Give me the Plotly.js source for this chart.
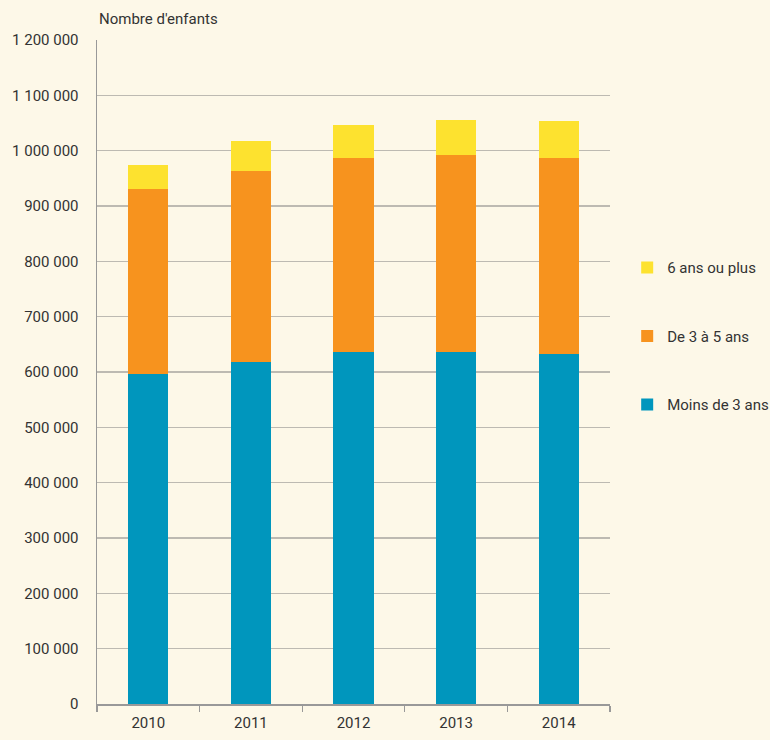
<!DOCTYPE html>
<html>
<head>
<meta charset="utf-8">
<script src="https://cdn.plot.ly/plotly-3.0.1.min.js"></script>
<style>html,body{margin:0;padding:0;background:#fdf8e8;}</style>
</head>
<body>
<div id="chart" style="width:770px;height:740px;"></div>
<script>
const years = ['2010', '2011', '2012', '2013', '2014'];
const moinsDe3 = [597000, 618000, 637000, 637000, 632000];
const de3a5 = [333000, 346000, 350000, 356000, 355000];
const sixPlus = [45000, 53000, 59000, 63000, 67000];
const seriesNames = ['Moins de 3 ans', 'De 3 à 5 ans', '6 ans ou plus'];
const colors = ['#0096bd', '#f7931e', '#fde22f'];

const font = "'Roboto', 'Liberation Sans', sans-serif";
const fs = 15;
const allSeries = [moinsDe3, de3a5, sixPlus];
const traces = allSeries.map((vals, i) => ({
  type: 'bar', x: years, y: vals, name: seriesNames[i],
  legendgroup: 'g' + i, legendrank: 3 - i,
  marker: {color: colors[i], line: {width: 0}},
  hoverinfo: 'x+y+name'
}));

const layout = {
  width: 770, height: 740,
  paper_bgcolor: '#fdf8e8', plot_bgcolor: '#fdf8e8',
  barmode: 'stack', bargap: 0.61,
  margin: {l: 97, r: 160, t: 40, b: 36, autoexpand: false},
  font: {family: font, size: fs, color: '#333333'},
  separators: ', ',
  xaxis: {
    type: 'category', showline: true, linecolor: '#999999', linewidth: 1.5,
    ticks: 'outside', tickson: 'boundaries', ticklen: 6, tickcolor: '#999999', tickwidth: 1.2,
    ticklabelstandoff: 4,
    showgrid: false, tickfont: {family: font, size: fs, color: '#333333'}, fixedrange: true
  },
  yaxis: {
    range: [0, 1200000], dtick: 100000, tickformat: ',d',
    showline: true, linecolor: '#999999', linewidth: 1.5,
    gridcolor: '#bdbab2', gridwidth: 1.5, zeroline: false,
    ticks: '', ticklabelstandoff: 14,
    tickfont: {family: font, size: fs, color: '#333333'}, fixedrange: true
  },
  legend: {
    x: 1.0335, xanchor: 'left', y: 0.554, yanchor: 'middle',
    traceorder: 'grouped', tracegroupgap: 46,
    font: {family: font, size: fs, color: '#333333'},
    bgcolor: 'rgba(0,0,0,0)', itemwidth: 30
  },
  annotations: [{
    text: "Nombre d'enfants", xref: 'paper', yref: 'paper',
    x: 0, y: 1, xanchor: 'left', yanchor: 'bottom', yshift: 10, showarrow: false,
    font: {family: font, size: fs, color: '#333333'}
  }]
};

Plotly.newPlot('chart', traces, layout, {displayModeBar: false, staticPlot: true});
</script>
</body>
</html>
